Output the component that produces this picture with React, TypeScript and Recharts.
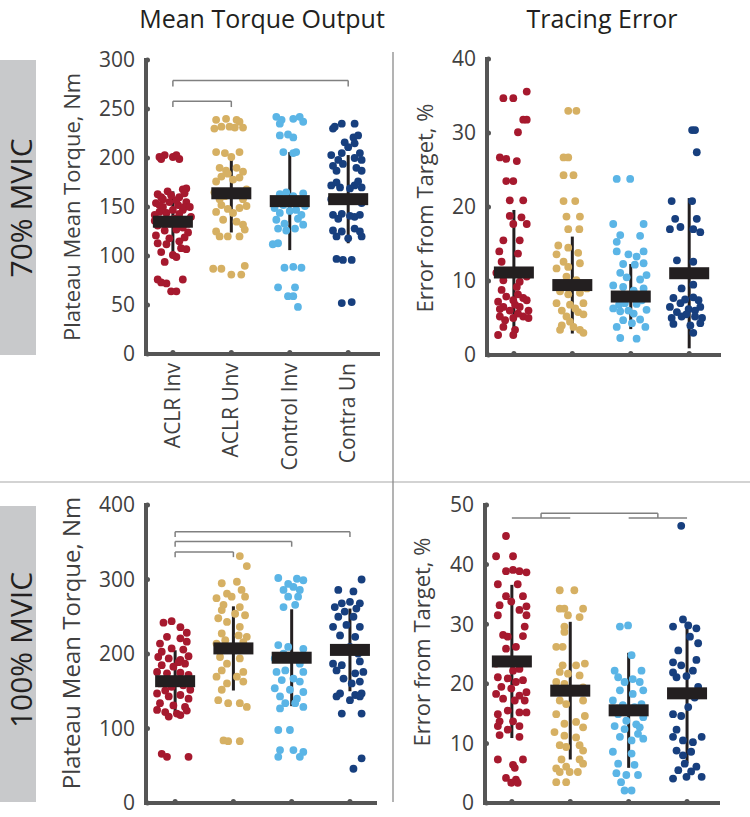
import { ScatterChart, Scatter, XAxis, YAxis, ErrorBar, ReferenceLine } from 'recharts';

const CATEGORIES = ['ACLR Inv', 'ACLR Unv', 'Control Inv', 'Contra Un'];
const COLORS = ['#a6192e', '#d6b063', '#5bb5e6', '#173f7e'];
const INK = '#231f20';
const AXIS = '#555555';
const TEXT = '#404040';
const FONT = '"Open Sans", sans-serif';

// each point: [horizontal jitter in category units, value]
const torque70AclrInv = [
  [-0.23, 201], [-0.14, 203], [0, 201], [0.11, 199], [0.06, 203], [-0.2, 199],
  [-0.26, 163], [-0.09, 166], [0.17, 168], [0.23, 169], [0.11, 160], [0.2, 164], [-0.2, 160],
  [-0.29, 154], [-0.17, 150], [0.09, 152], [0.23, 155], [-0.23, 145], [0.17, 147], [-0.31, 142], [-0.11, 144], [0.31, 140], [-0.06, 155],
  [0.03, 138], [-0.06, 133], [0.14, 136], [0.2, 150], [-0.17, 158], [0, 147], [0.26, 133], [-0.31, 136],
  [0.06, 157], [-0.03, 162], [0.29, 150], [-0.23, 152], [0.11, 143],
  [-0.26, 131], [-0.14, 126], [0.17, 129], [0.26, 124], [-0.29, 121], [0.06, 127], [-0.06, 118], [0.2, 119],
  [-0.26, 113], [-0.11, 112], [0.11, 115], [0.23, 107], [-0.2, 104], [0, 101], [0.06, 99], [-0.14, 94], [0.14, 108],
  [-0.26, 76], [-0.11, 72], [0.17, 76], [-0.03, 64], [0.06, 64], [-0.2, 73],
];
const torque70AclrUnv = [
  [-0.26, 239], [-0.09, 240], [0.09, 239], [-0.17, 232], [0.06, 231], [0.2, 231], [-0.29, 230], [-0.03, 232], [0.14, 237],
  [-0.26, 206], [-0.11, 205], [0.14, 206], [0, 201],
  [-0.2, 190], [-0.09, 187], [0.09, 190], [0.2, 186], [-0.17, 181], [0.14, 180], [-0.26, 176], [0.03, 178], [-0.06, 184],
  [-0.29, 165], [-0.11, 161], [0.14, 163], [0.26, 168], [-0.2, 158], [0.2, 158],
  [-0.17, 152], [0.14, 149], [0.03, 144], [0.26, 151], [-0.26, 145], [-0.06, 148],
  [-0.14, 137], [0.09, 135], [0.2, 132], [-0.26, 125], [-0.06, 120], [0.14, 120], [-0.2, 120], [0.23, 127],
  [-0.31, 87], [-0.17, 87], [0, 81], [0.17, 81], [0.23, 90],
];
const torque70ControlInv = [
  [-0.23, 242], [-0.14, 239], [0.06, 240], [0.17, 242], [0.23, 237], [-0.17, 235],
  [-0.17, 223], [-0.03, 224], [0.06, 221],
  [-0.11, 206], [0.11, 206], [0.06, 205],
  [-0.17, 163], [-0.06, 165], [0.06, 161], [0.23, 164],
  [-0.26, 149], [-0.11, 152], [0.11, 147], [0.26, 151], [0, 146], [-0.17, 144], [0.2, 155],
  [-0.23, 137], [-0.09, 133], [0.14, 138], [0.23, 132], [-0.2, 128], [0.09, 128], [-0.06, 126], [0.2, 142],
  [-0.2, 113], [-0.29, 112],
  [-0.09, 88], [0.06, 89], [0.2, 88],
  [-0.2, 68], [0.09, 68],
  [-0.03, 59], [0.06, 59],
  [0.14, 48],
];
const torque70ContraUn = [
  [-0.23, 232], [-0.11, 235], [0.11, 235], [-0.26, 230],
  [0.09, 221], [0.17, 223], [-0.06, 216], [0.11, 215], [0, 211],
  [-0.29, 203], [-0.11, 205], [0.2, 205], [-0.17, 198], [0.11, 200], [0.23, 198],
  [-0.26, 192], [-0.09, 194], [0.14, 190], [0.23, 187], [-0.2, 187],
  [-0.29, 172], [-0.14, 170], [0.11, 172], [0.23, 170], [0.03, 169], [-0.2, 175], [0.17, 176],
  [-0.29, 158], [-0.11, 156], [0.11, 158], [0.23, 154],
  [-0.26, 142], [-0.11, 143], [0.11, 140], [0.2, 142], [-0.17, 138], [0.03, 141],
  [-0.26, 126], [-0.11, 125], [0.11, 128], [0.2, 125], [-0.2, 120], [0, 118], [0.23, 120],
  [-0.2, 97], [-0.09, 96], [0.06, 96],
  [-0.11, 52], [0.06, 53],
];
const torque70Means = [135, 164, 156, 158];
const torque70Sd = [31, 40, 50, 45];
const torque70Brackets = [[1, 2, 258, 6], [1, 4, 279, 6]];

const error70AclrInv = [
  [0.22, 35.6], [-0.01, 34.7], [-0.18, 34.7], [0.22, 31.8], [0.16, 31.8], [0.07, 30.1],
  [-0.24, 26.7], [-0.13, 26.5], [0.05, 26.2], [-0.13, 23.5], [-0.01, 23.5],
  [-0.07, 20.9], [0.16, 20.9], [-0.07, 18.8], [0.13, 18.6], [0.22, 17.7], [-0.01, 17.7],
  [-0.18, 15.5], [0.1, 15.5], [-0.25, 14.0], [0.07, 13.7], [-0.21, 12.6],
  [-0.3, 11.1], [0.22, 10.6], [-0.18, 10.1], [0.1, 9.9], [-0.21, 8.8], [0.05, 9.2],
  [-0.13, 7.9], [0.16, 7.7], [-0.01, 7.4], [-0.27, 7.2], [0.22, 7.4], [0.07, 8.2],
  [-0.18, 6.5], [-0.07, 6.0], [0.1, 6.5], [0.25, 6.0], [0.02, 6.8], [-0.24, 6.2],
  [-0.24, 5.2], [-0.01, 5.0], [0.16, 5.2], [-0.15, 4.7], [0.25, 5.0], [0.07, 5.6],
  [-0.18, 3.8], [0.02, 3.4], [-0.27, 2.7], [-0.01, 2.7],
];
const error70AclrUnv = [
  [-0.07, 33], [0.07, 33], [-0.15, 26.7], [-0.07, 26.7], [-0.15, 24.3], [0.02, 24.3],
  [-0.15, 20.8], [0.05, 20.8], [-0.1, 18.7], [0.13, 18.7], [-0.07, 17], [0.12, 17],
  [-0.24, 14.8], [-0.07, 14.5], [0.1, 13.8], [-0.27, 13.6],
  [-0.15, 12.6], [0.13, 12.4], [-0.27, 11.7], [-0.07, 11.9], [-0.1, 10.6], [0.07, 10.1],
  [-0.21, 8.6], [0.13, 8.4], [-0.07, 8.2], [0.25, 9.0],
  [-0.27, 7.0], [-0.04, 6.8], [0.19, 7.0], [-0.18, 6.0], [0.1, 5.8], [-0.1, 5.2], [0.19, 5.5], [0.05, 6.3],
  [-0.18, 4.0], [0.02, 3.8], [0.13, 3.4], [0.19, 3.0], [-0.21, 3.4], [-0.04, 4.5],
];
const error70ControlInv = [
  [-0.24, 23.8], [-0.01, 23.8], [-0.3, 17.7], [0.22, 17.7],
  [-0.18, 16.2], [0.16, 16.1], [-0.24, 15.3],
  [-0.24, 14.0], [0.22, 14.0], [-0.04, 13.6], [0.1, 13.3],
  [-0.13, 12.3], [0.22, 12.4], [0.07, 12.2],
  [-0.18, 11.1], [0.27, 10.8], [-0.07, 10.5], [0.16, 10.2],
  [-0.3, 9.4], [-0.13, 9.2], [0.22, 9.0], [0.05, 8.7],
  [-0.24, 7.9], [0.19, 7.4], [-0.1, 7.0], [0.1, 6.9], [-0.2, 6.8],
  [-0.3, 6.3], [-0.18, 5.9], [0.27, 6.1], [0.05, 5.6], [-0.04, 6.0],
  [-0.13, 4.7], [0.16, 4.8], [-0.24, 3.8], [0.25, 3.8], [0.02, 4.3],
  [-0.18, 2.3], [0.1, 2.2],
];
const error70ContraUn = [
  [0.05, 30.4], [0.1, 30.4], [0.13, 27.4], [-0.3, 20.8], [0.05, 20.8],
  [-0.24, 18.4], [0.13, 18.4], [-0.33, 17.0], [0.07, 17.0], [-0.15, 17.3], [0.19, 16.6],
  [-0.21, 12.8], [0.07, 12.6], [0.07, 9.5], [-0.13, 9.0],
  [-0.27, 7.7], [0.07, 7.8], [0.16, 7.4], [-0.15, 7.0], [-0.07, 7.5],
  [-0.33, 6.5], [-0.01, 6.2], [0.19, 6.5], [-0.21, 5.8], [0.1, 6.0],
  [-0.13, 5.2], [0.1, 5.2], [0.22, 5.0], [-0.3, 5.0], [-0.05, 5.5],
  [-0.27, 4.2], [0.02, 4.0], [0.19, 4.3], [0.07, 3.0],
];
const error70Means = [11.15, 9.45, 7.9, 11.05];
const error70Sd = [8.45, 6.55, 4.4, 10.15];
const error70Brackets: number[][] = [];

const torque100AclrInv = [
  [-0.2, 242], [-0.06, 244], [0.2, 228.5], [0.09, 236],
  [-0.14, 223], [0.09, 221], [-0.26, 214], [0.2, 216.5],
  [-0.06, 207.5], [-0.23, 203], [0.14, 206],
  [-0.29, 196], [-0.11, 194], [0.09, 192], [0.23, 197],
  [-0.23, 185], [-0.03, 183], [0.17, 187], [0.06, 189],
  [-0.31, 176], [-0.14, 174], [0.09, 175], [0.23, 172],
  [-0.26, 160.5], [-0.06, 156], [0.14, 158], [0.26, 152],
  [-0.31, 147], [-0.11, 143], [0.09, 145], [0.23, 140], [-0.17, 151],
  [-0.26, 134], [-0.03, 131], [0.17, 129], [-0.17, 122], [0.03, 120], [0.2, 124],
  [-0.11, 116], [-0.31, 125], [0.09, 118],
  [-0.23, 66], [-0.14, 62], [0.23, 62],
];
const torque100AclrUnv = [
  [0.11, 331.5], [0.23, 318],
  [0.06, 297], [-0.2, 295], [0.14, 286], [-0.11, 281],
  [-0.29, 275], [-0.03, 277], [0.2, 277], [-0.17, 266],
  [0.11, 263], [-0.2, 259], [0.03, 254], [0.2, 252],
  [-0.26, 248], [-0.11, 243], [0.11, 236.5],
  [-0.2, 227.5], [0.09, 225], [0.23, 223],
  [-0.14, 218.6], [0.17, 216], [-0.29, 214],
  [-0.23, 196], [0.11, 194], [-0.11, 187],
  [-0.2, 178], [0.17, 176], [-0.29, 169.5], [0.06, 169.5],
  [-0.11, 160.5], [0.17, 163], [-0.2, 152],
  [-0.26, 138], [-0.09, 134], [0.11, 134], [0.23, 129],
  [-0.17, 84], [-0.09, 83], [0.11, 83],
];
const torque100ControlInv = [
  [-0.23, 302], [-0.06, 294], [0.09, 301], [0.2, 299], [-0.14, 286], [0.14, 286], [0.03, 290],
  [-0.06, 277], [0.11, 277], [-0.14, 263], [0.06, 266],
  [-0.23, 212], [-0.06, 209.5], [0.2, 207], [-0.14, 200.6],
  [0.09, 196], [-0.29, 194], [0.14, 187], [-0.11, 178],
  [-0.26, 176], [0.2, 176], [0.03, 167], [-0.17, 165],
  [0.14, 163], [-0.29, 154], [-0.03, 152], [0.2, 149],
  [-0.2, 143], [0.09, 140], [-0.11, 134], [0.2, 129],
  [-0.2, 127], [0.06, 134],
  [-0.23, 98], [-0.03, 98],
  [-0.2, 71], [0.03, 71], [0.2, 68.5],
  [-0.23, 62], [0.14, 62],
];
const torque100ContraUn = [
  [0.2, 300], [-0.2, 286], [0.06, 284],
  [0, 270], [-0.14, 268], [0.17, 268], [-0.26, 263],
  [-0.09, 257], [0.11, 261], [-0.2, 250], [0.06, 250],
  [-0.29, 236.5], [-0.06, 239], [0.17, 236.5],
  [-0.17, 225], [0.09, 223],
  [-0.23, 207], [0, 209.5], [0.14, 200.6],
  [-0.29, 187], [-0.14, 185], [0.17, 190],
  [-0.23, 178], [0.09, 174], [0.23, 176],
  [-0.11, 167], [0.03, 160.5], [0.17, 163],
  [-0.17, 147], [0.09, 145], [0.2, 147], [-0.23, 143],
  [0, 138], [0.17, 143],
  [-0.14, 120], [0.2, 120],
  [0.2, 60], [0.06, 46],
];
const torque100Means = [163.5, 207.5, 195, 205.5];
const torque100Sd = [41.5, 56.5, 65, 55.5];
const torque100Brackets = [[1, 2, 337, 7], [1, 3, 351, 7], [1, 4, 364, 7]];

const error100AclrInv = [
  [-0.1, 44.8], [-0.27, 41.4], [0.02, 41.4],
  [-0.1, 38.9], [0.02, 39.1], [0.13, 38.9], [0.25, 38.7],
  [-0.24, 36.7], [0.1, 36.7], [-0.1, 34.7], [0.19, 34.7],
  [-0.01, 33.8], [-0.21, 33.2], [0.25, 33.0], [0.13, 32.4],
  [-0.24, 31.5], [0.25, 31.5], [0.22, 29.6],
  [-0.15, 28.2], [-0.07, 27.9], [0.19, 28.0], [0.07, 26.2], [-0.1, 25.9],
  [-0.27, 23.4], [0.02, 22.2], [0.13, 22.5],
  [-0.24, 21.1], [-0.07, 20.9], [0.19, 20.6], [0.07, 20.3],
  [-0.18, 19.5], [-0.01, 19.2], [0.25, 18.6], [-0.27, 18.3], [0.13, 18.0],
  [-0.15, 17.5], [0.05, 17.2], [0.22, 17.2],
  [-0.07, 15.5], [-0.24, 14.9], [0.13, 15.2], [0.25, 15.2],
  [-0.21, 13.7], [0.02, 13.7], [-0.24, 12.9], [-0.07, 12.3], [0.13, 12.9],
  [-0.21, 11.4], [0.13, 11.1],
  [-0.24, 7.3], [0.19, 7.3], [0.02, 6.4], [0.05, 5.9],
  [-0.1, 4.2], [0.07, 3.9], [-0.01, 3.4], [0.1, 3.4],
];
const error100AclrUnv = [
  [-0.18, 35.7], [0.07, 35.7], [-0.18, 32.6], [-0.1, 32.6], [0.22, 32.6],
  [-0.04, 31.5], [0.16, 31.2], [-0.1, 29.6], [-0.1, 28.7], [-0.24, 26.2], [-0.13, 26.2],
  [-0.13, 23.1], [0.1, 23.1], [0.25, 23.4], [-0.18, 22.0], [-0.04, 21.7], [0.16, 21.4],
  [-0.24, 20.3], [-0.1, 20.0], [0.22, 19.4],
  [-0.18, 17.2], [0.22, 17.2], [-0.07, 16.6], [-0.24, 14.9], [0.25, 14.6],
  [-0.1, 13.3], [0.1, 13.6], [0.22, 12.7], [-0.27, 11.9], [-0.1, 11.3], [0.1, 11.0],
  [-0.18, 9.7], [0.16, 9.7], [-0.07, 9.4], [0.22, 8.8],
  [-0.15, 7.3], [0.16, 7.3], [-0.24, 5.8], [-0.07, 6.1], [0.22, 6.6],
  [-0.18, 5.2], [-0.01, 5.2], [0.13, 5.2], [-0.24, 3.5], [-0.07, 3.5],
];
const error100ControlInv = [
  [-0.15, 29.6], [-0.01, 29.8], [0.05, 24.8], [-0.24, 22.2], [0.22, 22.2],
  [-0.18, 21.1], [0.07, 20.8], [-0.07, 20.3], [0.19, 20.3],
  [-0.15, 18.9], [0.25, 18.9], [0.07, 18.3],
  [-0.27, 17.2], [0.22, 16.6], [-0.1, 16.4], [0.1, 16.1],
  [-0.18, 14.9], [0.25, 14.4], [-0.04, 13.8], [0.13, 13.2],
  [-0.24, 12.9], [0.19, 12.7], [-0.07, 12.4],
  [-0.15, 11.1], [0.25, 10.8], [0.05, 10.5], [0.16, 11.6],
  [-0.27, 8.6], [0.05, 8.3], [-0.18, 6.6], [0.1, 6.4],
  [-0.21, 5.0], [0.16, 4.7], [-0.04, 4.7], [-0.13, 3.5],
  [-0.07, 2.1], [0.05, 2.1],
];
const error100ContraUn = [
  [-0.1, 46.5],
  [-0.07, 30.8], [0.16, 29.3], [-0.24, 29.6], [0.02, 29.8],
  [0.05, 27.9], [-0.15, 25.6], [0.19, 26.8],
  [-0.24, 23.6], [-0.1, 23.1], [0.16, 24.0],
  [0.1, 22.2], [-0.24, 21.9], [-0.01, 21.3], [-0.18, 21.1],
  [0.19, 19.5], [-0.13, 18.6], [0.13, 17.7],
  [0.02, 16.1], [-0.24, 14.9], [-0.1, 14.6], [-0.18, 12.3],
  [-0.24, 11.1], [0.25, 11.1], [-0.07, 10.5], [0.1, 10.2],
  [-0.18, 8.8], [0.07, 8.6], [-0.07, 8.0],
  [-0.04, 6.6], [0.16, 6.1], [-0.15, 5.5], [0.07, 5.3],
  [-0.24, 4.1], [-0.01, 4.4], [0.25, 4.4],
];
const error100Means = [23.75, 18.85, 15.55, 18.4];
const error100Sd = [12.85, 11.55, 9.65, 11.7];
const error100Brackets = [[1, 2, 47.8, 0], [3, 4, 47.8, 0], [1.5, 3.5, 48.6, 0.8]];

const CAT_TICKS = [1, 2, 3, 4];

function YTick(props: any) {
  const { x, y, payload } = props;
  return (
    <g>
      <circle cx={x + 1.5} cy={y} r={2.5} fill={AXIS} />
      <text x={x - 11} y={y} dy="0.35em" textAnchor="end" fontSize={21} fill={TEXT} fontFamily={FONT}>
        {payload.value}
      </text>
    </g>
  );
}

function makeXTick(showLabels: boolean) {
  return (props: any) => {
    const { x, y, payload } = props;
    const label = CATEGORIES[payload.value - 1];
    return (
      <g>
        <circle cx={x} cy={y - 1.5} r={2.5} fill={AXIS} />
        {showLabels && (
          <text
            x={x + 7}
            y={y + 9}
            transform={`rotate(-90 ${x + 7} ${y + 9})`}
            textAnchor="end"
            fontSize={21}
            fill={TEXT}
            fontFamily={FONT}
          >
            {label}
          </text>
        )}
      </g>
    );
  };
}

function MeanBar(props: any) {
  const { cx, cy } = props;
  return <rect x={cx - 20} y={cy - 6} width={40} height={12} fill={INK} />;
}

function Panel(p: any) {
  const meanData = p.means.map((m: number, i: number) => ({ x: i + 1, y: m, err: p.sds[i] }));
  const segs: any[] = [];
  p.brackets.forEach((b: number[]) => {
    const [x1, x2, y, drop] = b;
    segs.push([[x1, y], [x2, y]]);
    if (drop > 0) {
      segs.push([[x1, y], [x1, y - drop]]);
      segs.push([[x2, y], [x2, y - drop]]);
    }
  });
  return (
    <div style={{ position: 'absolute', left: p.left, top: p.top }}>
      <ScatterChart width={p.width} height={p.height} margin={p.margin}>
        <XAxis
          type="number"
          dataKey="x"
          domain={p.xDomain}
          ticks={CAT_TICKS}
          interval={0}
          allowDataOverflow
          height={p.xAxisHeight}
          axisLine={{ stroke: AXIS, strokeWidth: 4, strokeLinecap: 'square' }}
          tickLine={false}
          tickSize={0}
          tickMargin={0}
          tick={makeXTick(p.showLabels)}
        />
        <YAxis
          type="number"
          dataKey="y"
          domain={p.yDomain}
          ticks={p.yTicks}
          interval={0}
          allowDataOverflow
          width={60}
          axisLine={{ stroke: AXIS, strokeWidth: 4, strokeLinecap: 'square' }}
          tickLine={false}
          tickSize={0}
          tickMargin={0}
          tick={YTick}
        />
        {p.groups.map((g: number[][], i: number) => (
          <Scatter
            key={CATEGORIES[i]}
            data={g.map(([dx, v]) => ({ x: i + 1 + dx, y: v }))}
            isAnimationActive={false}
            shape={(s: any) => <circle cx={s.cx} cy={s.cy} r={3.9} fill={COLORS[i]} />}
          />
        ))}
        {segs.map((s, i) => (
          <ReferenceLine
            key={i}
            segment={[{ x: s[0][0], y: s[0][1] }, { x: s[1][0], y: s[1][1] }]}
            stroke="#808080"
            strokeWidth={1.5}
            ifOverflow="visible"
          />
        ))}
        <Scatter data={meanData} isAnimationActive={false} shape={MeanBar}>
          <ErrorBar dataKey="err" direction="y" width={0} stroke={INK} strokeWidth={3} isAnimationActive={false} />
        </Scatter>
      </ScatterChart>
    </div>
  );
}

export default function App() {
  return (
    <div style={{ position: 'absolute', left: 0, top: 0, width: 750, height: 817, background: '#fff', fontFamily: FONT }}>
      <svg width={750} height={817} style={{ position: 'absolute', left: 0, top: 0 }}>
        <text x={262} y={28} textAnchor="middle" fontSize={25} fill={INK} fontFamily={FONT}>Mean Torque Output</text>
        <text x={602} y={28} textAnchor="middle" fontSize={25} fill={INK} fontFamily={FONT}>Tracing Error</text>
        <rect x={0} y={60} width={36} height={295} fill="#c8c9cb" />
        <rect x={0} y={506} width={36} height={296} fill="#c8c9cb" />
        <text x={32} y={208} transform="rotate(-90 32 208)" textAnchor="middle" fontSize={30} fill={INK} fontFamily={FONT}>70% MVIC</text>
        <text x={32} y={650} transform="rotate(-90 32 650)" textAnchor="middle" fontSize={30} fill={INK} fontFamily={FONT}>100% MVIC</text>
        <line x1={0} y1={482} x2={750} y2={482} stroke="#c4c4c4" strokeWidth={1.5} />
        <line x1={393} y1={52} x2={393} y2={802} stroke="#8a8a8a" strokeWidth={1.3} />
        <text x={80} y={207} transform="rotate(-90 80 207)" textAnchor="middle" fontSize={22} fill={TEXT} fontFamily={FONT}>Plateau Mean Torque, Nm</text>
        <text x={433} y={208} transform="rotate(-90 433 208)" textAnchor="middle" fontSize={22} fill={TEXT} fontFamily={FONT}>Error from Target, %</text>
        <text x={80} y={643} transform="rotate(-90 80 643)" textAnchor="middle" fontSize={24} fill={TEXT} fontFamily={FONT}>Plateau Mean Torque, Nm</text>
        <text x={430} y={642} transform="rotate(-90 430 642)" textAnchor="middle" fontSize={22} fill={TEXT} fontFamily={FONT}>Error from Target, %</text>
      </svg>
      <Panel
        left={0} top={0} width={392} height={480}
        margin={{ top: 60, right: 14, bottom: 0, left: 86 }}
        xAxisHeight={126} xDomain={[0.54, 4.51]}
        yDomain={[0, 300]} yTicks={[0, 50, 100, 150, 200, 250, 300]}
        groups={[torque70AclrInv, torque70AclrUnv, torque70ControlInv, torque70ContraUn]}
        means={torque70Means} sds={torque70Sd} brackets={torque70Brackets} showLabels
      />
      <Panel
        left={392} top={0} width={340} height={480}
        margin={{ top: 59, right: 13, bottom: 0, left: 35 }}
        xAxisHeight={125} xDomain={[0.54, 4.51]}
        yDomain={[0, 40]} yTicks={[0, 10, 20, 30, 40]}
        groups={[error70AclrInv, error70AclrUnv, error70ControlInv, error70ContraUn]}
        means={error70Means} sds={error70Sd} brackets={error70Brackets} showLabels={false}
      />
      <Panel
        left={0} top={483} width={392} height={334}
        margin={{ top: 22, right: 17, bottom: 0, left: 86 }}
        xAxisHeight={14} xDomain={[0.5, 4.43]}
        yDomain={[0, 400]} yTicks={[0, 100, 200, 300, 400]}
        groups={[torque100AclrInv, torque100AclrUnv, torque100ControlInv, torque100ContraUn]}
        means={torque100Means} sds={torque100Sd} brackets={torque100Brackets} showLabels={false}
      />
      <Panel
        left={392} top={483} width={340} height={334}
        margin={{ top: 22, right: 14, bottom: 0, left: 33 }}
        xAxisHeight={14} xDomain={[0.54, 4.53]}
        yDomain={[0, 50]} yTicks={[0, 10, 20, 30, 40, 50]}
        groups={[error100AclrInv, error100AclrUnv, error100ControlInv, error100ContraUn]}
        means={error100Means} sds={error100Sd} brackets={error100Brackets} showLabels={false}
      />
    </div>
  );
}
